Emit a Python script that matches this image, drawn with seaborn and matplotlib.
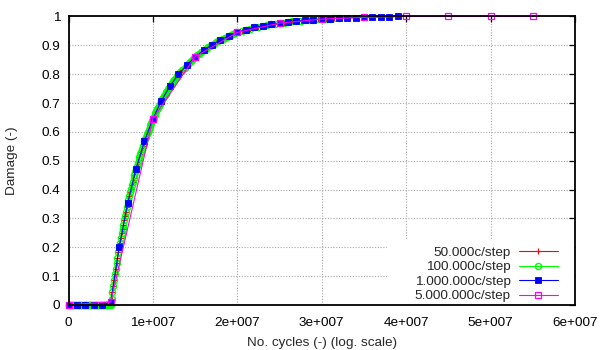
import numpy as np
import pandas as pd
import matplotlib
matplotlib.use("Agg")
import matplotlib.pyplot as plt
from matplotlib.patches import Rectangle
from matplotlib.lines import Line2D
import seaborn as sns

# ---- data -------------------------------------------------------------
series_names = ["50.000c/step", "100.000c/step", "1.000.000c/step", "5.000.000c/step"]
series_colors = ["#ff0000", "#00ff00", "#0000ff", "#ff00ff"]

# fine-step runs (50.000 and 100.000 cycles per step)
fine_cycles = np.concatenate([
    np.arange(0, 13.0e6 + 1, 1e5),
    np.arange(13.25e6, 20.0e6 + 1, 2.5e5),
    np.arange(20.5e6, 32.0e6 + 1, 5e5),
])
fine_damage = [0.0] * 50 + [
    0.000, 0.022, 0.044, 0.065, 0.086, 0.106, 0.126, 0.145, 0.164, 0.182, 0.200,
    0.216, 0.232, 0.248, 0.263, 0.278, 0.294, 0.309, 0.323, 0.338, 0.352,
    0.365, 0.378, 0.391, 0.403, 0.415, 0.427, 0.439, 0.450, 0.462, 0.473,
    0.483, 0.493, 0.503, 0.513, 0.522, 0.532, 0.541, 0.550, 0.559, 0.568,
    0.576, 0.584, 0.592, 0.600, 0.608, 0.616, 0.623, 0.631, 0.639, 0.646,
    0.653, 0.659, 0.666, 0.672, 0.678, 0.684, 0.690, 0.696, 0.702, 0.708,
    0.713, 0.718, 0.723, 0.728, 0.733, 0.738, 0.743, 0.748, 0.753, 0.758,
    0.762, 0.766, 0.770, 0.775, 0.779, 0.783, 0.787, 0.791, 0.795, 0.799,
    0.807, 0.815, 0.823, 0.831, 0.838, 0.845, 0.852, 0.859,
    0.865, 0.871, 0.877, 0.883, 0.888, 0.893, 0.898, 0.902,
    0.906, 0.911, 0.915, 0.919, 0.923, 0.926, 0.930, 0.933,
    0.936, 0.939, 0.942, 0.945,
    0.950, 0.954, 0.958, 0.962, 0.965, 0.968, 0.971, 0.973, 0.975, 0.977,
    0.979, 0.981, 0.983, 0.984, 0.986, 0.987, 0.988, 0.989, 0.990, 0.991,
    0.992, 0.993, 0.994, 0.994,
]

# 1.000.000 cycles per step
mid_cycles = np.arange(0, 39e6 + 1, 1e6)
mid_damage = [
    0.0, 0.0, 0.0, 0.0, 0.0, 0.010, 0.200, 0.352, 0.473, 0.568, 0.646,
    0.708, 0.758, 0.799, 0.831, 0.859, 0.883, 0.902, 0.919, 0.933, 0.945,
    0.954, 0.962, 0.968, 0.973, 0.977, 0.981, 0.984, 0.987, 0.989, 0.991,
    0.993, 0.994, 0.995, 0.996, 0.997, 0.998, 0.999, 0.999, 1.000,
]

# 5.000.000 cycles per step
coarse_cycles = np.arange(0, 55e6 + 1, 5e6)
coarse_damage = [0.0, 0.011, 0.646, 0.860, 0.945, 0.977, 0.991, 0.997,
                 1.000, 1.000, 1.000, 1.000]

x_ticks = [0, 1e7, 2e7, 3e7, 4e7, 5e7, 6e7]
x_tick_labels = ["0", "1e+007", "2e+007", "3e+007", "4e+007", "5e+007", "6e+007"]
y_ticks = [0, 0.1, 0.2, 0.3, 0.4, 0.5, 0.6, 0.7, 0.8, 0.9, 1.0]
y_tick_labels = ["0", "0.1", "0.2", "0.3", "0.4", "0.5", "0.6", "0.7", "0.8", "0.9", "1"]

frames = [
    pd.DataFrame({"cycles": fine_cycles, "damage": fine_damage, "run": series_names[0]}),
    pd.DataFrame({"cycles": fine_cycles, "damage": fine_damage, "run": series_names[1]}),
    pd.DataFrame({"cycles": mid_cycles, "damage": mid_damage, "run": series_names[2]}),
    pd.DataFrame({"cycles": coarse_cycles, "damage": coarse_damage, "run": series_names[3]}),
]

# ---- style ------------------------------------------------------------
sns.set_theme(style="white")
plt.rcParams["font.family"] = ["Liberation Sans", "DejaVu Sans"]
FS = 9.7
plt.rcParams["font.size"] = FS

fig = plt.figure(figsize=(6, 3.5), dpi=100)
fig.subplots_adjust(left=0.1142, right=0.9583, bottom=0.1286, top=0.9529)
ax = fig.add_subplot(111)

marker_styles = [
    dict(marker="+", markersize=4.5, markeredgewidth=0.8),
    dict(marker="o", markersize=4.4, markeredgewidth=1.0, markerfacecolor="none"),
    dict(marker="s", markersize=3.8, markeredgewidth=0.6),
    dict(marker="s", markersize=4.4, markeredgewidth=0.9, markerfacecolor="none"),
]

for i, df in enumerate(frames):
    sns.lineplot(data=df, x="cycles", y="damage", ax=ax, color=series_colors[i],
                 linewidth=0.8, estimator=None, sort=False, legend=False,
                 markeredgecolor=series_colors[i], clip_on=False, zorder=3 + i,
                 **marker_styles[i])

ax.set_xlim(0, 6e7)
ax.set_ylim(0, 1)
ax.set_xticks(x_ticks)
ax.set_xticklabels(x_tick_labels)
ax.set_yticks(y_ticks)
ax.set_yticklabels(y_tick_labels)

ax.set_axisbelow(True)
ax.grid(True, color="#a8a8a8", linestyle=(0, (1, 1.5)), linewidth=0.8)
ax.tick_params(direction="in", length=4, width=0.9, top=True, right=True,
               colors="black", labelcolor="black", labelsize=FS)
ax.tick_params(axis="x", pad=8.5)
ax.tick_params(axis="y", pad=6)
for sp in ax.spines.values():
    sp.set_color("black")
    sp.set_linewidth(1.3)
    sp.set_zorder(10)

ax.set_xlabel("No. cycles (-) (log. scale)", fontsize=FS, labelpad=6)
ax.set_ylabel("Damage (-)", fontsize=FS, labelpad=17)

# opaque key area
ax.add_patch(Rectangle((0.629, 0.0), 0.371, 0.225, transform=ax.transAxes,
                       facecolor="white", edgecolor="none", zorder=1))

handles = [
    Line2D([], [], color=series_colors[i], linewidth=0.8,
           markeredgecolor=series_colors[i], **marker_styles[i])
    for i in range(4)
]
ax.legend(handles, series_names, loc="lower right", bbox_to_anchor=(0.974, -0.005),
          markerfirst=False, frameon=False, fontsize=FS, handlelength=2.9,
          handletextpad=0.6, labelspacing=0.15, borderpad=0.3, borderaxespad=0.0)

fig.savefig("out.png", dpi=100, facecolor="white")
